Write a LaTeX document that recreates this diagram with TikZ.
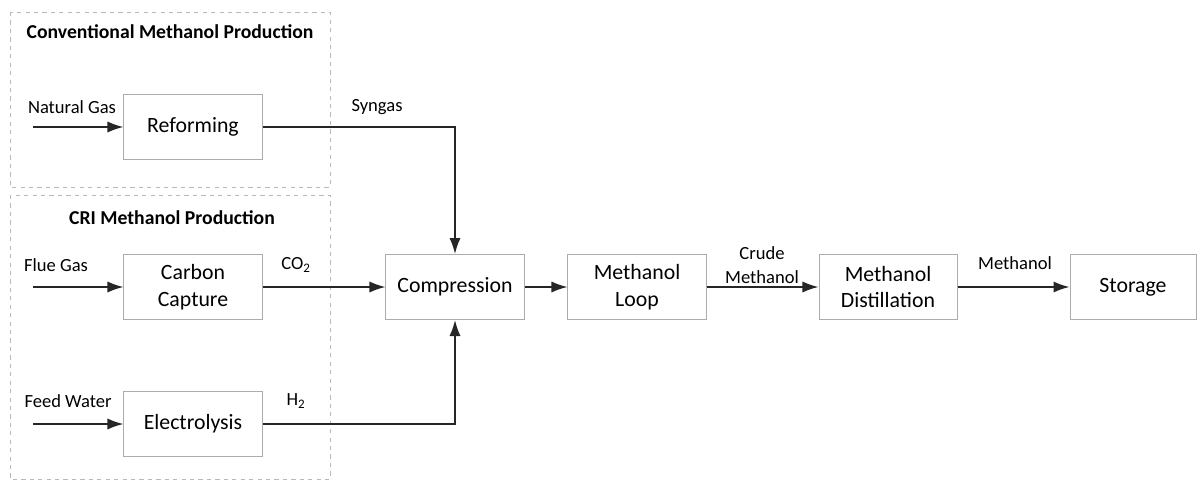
\documentclass[tikz,border=0pt]{standalone}
\usepackage{fontspec}
\setmainfont{Carlito}
\usetikzlibrary{arrows.meta}
\tikzset{
  procbox/.style = {rectangle, draw=gray!65, line width=0.7pt, align=center,
    inner sep=0pt, minimum width=3.45cm, minimum height=1.625cm,
    font=\fontsize{15.5}{19}\selectfont},% process unit
  flowlbl/.style = {align=center, inner sep=0pt,
    font=\fontsize{13.2}{17}\selectfont},% stream name
  grpframe/.style = {draw=gray!55, dashed, line width=0.6pt},% group frame
  grptitle/.style = {inner sep=0pt, font=\fontsize{14}{16}\selectfont\bfseries},% group title
  flow/.style = {-{Latex[length=4mm,width=2.8mm]}, line width=1.2pt,
    draw=black!85}% stream
}
\begin{document}
\begin{tikzpicture}[x=0.025cm, y=-0.025cm]
\useasboundingbox (0,0) rectangle (1197,481);
% groups
\draw [grpframe] (10,12) rectangle (330,187);
\draw [grpframe] (10,195) rectangle (330,479);
\node [grptitle] (convtitle) at (170,32) {Conventional Methanol Production};
\node [grptitle] (crititle) at (172,218) {CRI Methanol Production};
% units
\node [procbox] (reform) at (193,127) {Reforming};
\node [procbox] (capture) at (193,287) {Carbon\\Capture};
\node [procbox] (electro) at (193,424) {Electrolysis};
\node [procbox] (compress) at (455,287) {Compression};
\node [procbox] (loop) at (637,287) {Methanol\\Loop};
\node [procbox] (distill) at (888,287) {Methanol\\Distillation};
\node [procbox, minimum width=3.15cm] (storage) at (1133,287) {Storage};
% feeds
\coordinate (ngin) at (33,127);
\coordinate (fgin) at (33,287);
\coordinate (fwin) at (33,424);
\draw [flow] (ngin) -- (reform);
\draw [flow] (fgin) -- (capture);
\draw [flow] (fwin) -- (electro);
% streams
\draw [flow] (reform.east) -| (compress.north);
\draw [flow] (capture) -- (compress);
\draw [flow] (electro.east) -| (compress.south);
\draw [flow] (compress) -- (loop);
\draw [flow] (loop) -- (distill);
\draw [flow] (distill) -- (storage);
% labels
\node [flowlbl] (nglbl) at (72,107) {Natural Gas};
\node [flowlbl] (fglbl) at (56,265) {Flue Gas};
\node [flowlbl] (fwlbl) at (68,401) {Feed Water};
\node [flowlbl] (sglbl) at (377,107) {Syngas};
\node [flowlbl] (co2lbl) at (296,265) {CO\textsubscript{2}};
\node [flowlbl] (h2lbl) at (296,401) {H\textsubscript{2}};
\node [flowlbl] (crudelbl) at (762,265) {Crude\\Methanol};
\node [flowlbl] (meohlbl) at (1015,263) {Methanol};
\end{tikzpicture}
\end{document}
